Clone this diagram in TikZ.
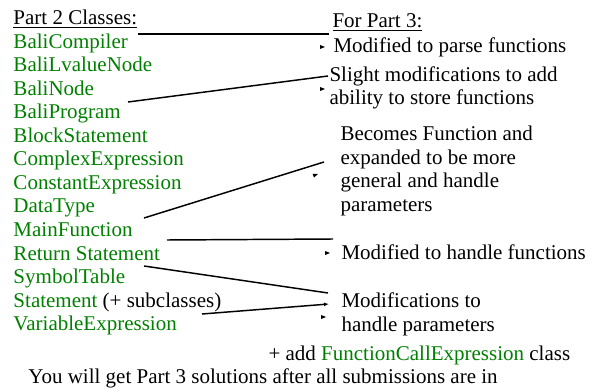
\documentclass[tikz,border=0pt]{standalone}
\usepackage{fontspec}
\setmainfont{Liberation Serif}
\usetikzlibrary{arrows.meta}
\definecolor{classgreen}{RGB}{0,128,0}

\tikzset{every picture/.style={line width=0.75pt}}
\tikzset{
  txt/.style={anchor=base west,inner sep=0pt,align=left,font=\fontsize{15.75}{17.6}\selectfont},
  cls/.style={txt,text=classgreen},
  link/.style={line width=1.1},
  tipmark/.style={fill=black},
}

\begin{document}
\begin{tikzpicture}[x=0.75pt,y=0.75pt,yscale=-1,xscale=1]
\useasboundingbox (0,0) rectangle (596,392);

% Text Node
\node (partTwo) [txt] at (13,25) {\underline{Part 2 Classes:}};
% Text Node
\node (baliCompiler) [cls] at (13,48.5) {BaliCompiler};
% Text Node
\node (baliLvalue) [cls] at (13,72) {BaliLvalueNode};
% Text Node
\node (baliNode) [cls] at (13,95.5) {BaliNode};
% Text Node
\node (baliProgram) [cls] at (13,119) {BaliProgram};
% Text Node
\node (blockStmt) [cls] at (13,142.5) {BlockStatement};
% Text Node
\node (complexExpr) [cls] at (13,166) {ComplexExpression};
% Text Node
\node (constExpr) [cls] at (13,189.5) {ConstantExpression};
% Text Node
\node (dataType) [cls] at (13,213) {DataType};
% Text Node
\node (mainFunc) [cls] at (13,236.5) {MainFunction};
% Text Node
\node (returnStmt) [cls] at (13,260) {Return Statement};
% Text Node
\node (symTable) [cls] at (13,283.5) {SymbolTable};
% Text Node
\node (statement) [cls] at (13,307) {Statement \textcolor{black}{(+ subclasses)}};
% Text Node
\node (varExpr) [cls] at (13,330.5) {VariableExpression};

% Text Node
\node (forPartThree) [txt] at (332,28) {\underline{For Part 3:}};
% Text Node
\node (parseNote) [txt] at (333,52.5) {Modified to parse functions};
% Text Node (base = last line)
\node (storeNote) [txt] at (329,105) {Slight modifications to add\\ability to store functions};
% Text Node
\node (functionNote) [txt] at (340,211) {Becomes Function and\\expanded to be more\\general and handle\\parameters};
% Text Node
\node (handleNote) [txt] at (341,259.5) {Modified to handle functions};
% Text Node
\node (paramNote) [txt] at (341,331) {Modifications to\\handle parameters};
% Text Node
\node (addNote) [txt] at (268,360) {+ add \textcolor{classgreen}{FunctionCallExpression} class};
% Text Node
\node (solutionsNote) [txt] at (28,383) {You will get Part 3 solutions after all submissions are in};

%Line ends
\coordinate (l1a) at (138,34);  \coordinate (l1b) at (329,34);
\coordinate (l2a) at (128,102); \coordinate (l2b) at (328,76);
\coordinate (l3a) at (144,218); \coordinate (l3b) at (324,162);
\coordinate (l4a) at (167,240); \coordinate (l4b) at (333,239);
\coordinate (l5a) at (144,266); \coordinate (l5b) at (328,293);
\coordinate (l6a) at (202,314); \coordinate (l6b) at (329,304);

%Straight Lines
\draw [link] (l1a) -- (l1b);
%Straight Lines
\draw [link] (l2a) -- (l2b);
%Straight Lines
\draw [link] (l3a) -- (l3b);
%Straight Lines
\draw [link] (l4a) -- (l4b);
%Straight Lines
\draw [link] (l5a) -- (l5b);
%Straight Lines
\draw [link,-{Latex[length=3.8pt,width=3pt]}] (l6a) -- (l6b);

%Arrow heads
\coordinate (t1) at (325,47);
\coordinate (t2) at (325,89);
\coordinate (t3) at (318,174);
\coordinate (t4) at (330,253);
\coordinate (t5) at (326,317);
\fill [tipmark] (t1) -- ++(-5,-2) -- ++(0,4) -- cycle;
\fill [tipmark] (t2) -- ++(-5,-2) -- ++(0,4) -- cycle;
\fill [tipmark,rotate around={-20:(t3)}] (t3) -- ++(-5,-2) -- ++(0,4) -- cycle;
\fill [tipmark] (t4) -- ++(-5,-2) -- ++(0,4) -- cycle;
\fill [tipmark] (t5) -- ++(-5,-2) -- ++(0,4) -- cycle;

\end{tikzpicture}
\end{document}
